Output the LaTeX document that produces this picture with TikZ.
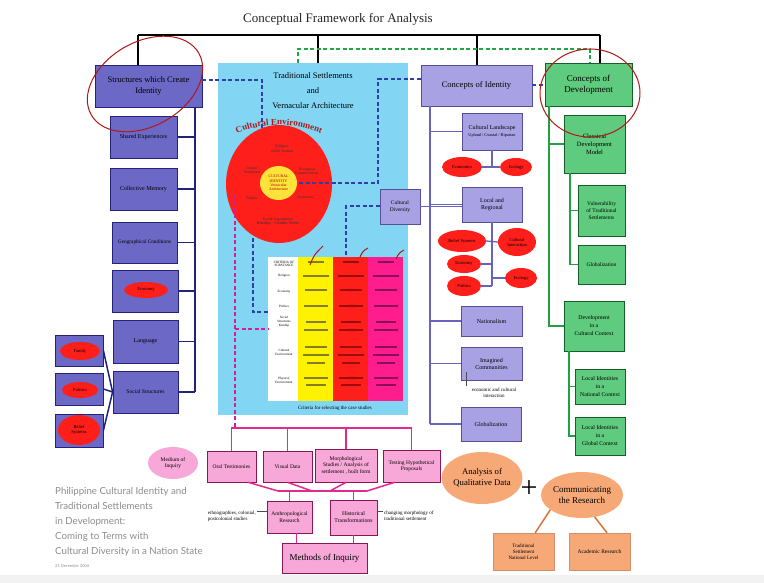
\documentclass[tikz,border=0pt]{standalone}
\usepackage{fontspec}
\setmainfont{Liberation Serif}
\newfontfamily\graysans{Lato}
\usetikzlibrary{shapes,calc,decorations.text}

\definecolor{structblue}{HTML}{6B68C6}
\definecolor{structline}{HTML}{23237A}
\definecolor{idlav}{HTML}{A8A2E4}
\definecolor{idline}{HTML}{6A63BE}
\definecolor{devgreen}{HTML}{5FCB7E}
\definecolor{devline}{HTML}{22A044}
\definecolor{panelcyan}{HTML}{82D6F4}
\definecolor{inqpink}{HTML}{F8A8D8}
\definecolor{inqline}{HTML}{E3288E}
\definecolor{anaorange}{HTML}{F7A877}
\definecolor{analine}{HTML}{D9743A}
\definecolor{hotred}{HTML}{FF1F1A}
\definecolor{identyellow}{HTML}{FFE23A}
\definecolor{dashblue}{HTML}{2F3FA6}
\definecolor{dashgreen}{HTML}{20A848}
\definecolor{dashmag}{HTML}{D0209A}
\definecolor{critpink}{HTML}{FF1C8C}
\definecolor{penred}{HTML}{B01818}

\begin{document}
\begin{tikzpicture}[x=1pt,y=-1pt,
  sbox/.style={draw=structline,fill=structblue,line width=0.8pt,align=center,inner sep=1pt,font=\fontsize{6}{7}\selectfont},
  ibox/.style={draw=idline!80!black,fill=idlav,line width=0.6pt,align=center,inner sep=1pt,font=\fontsize{6}{7}\selectfont},
  dbox/.style={draw=devline!60!black,fill=devgreen,line width=0.6pt,align=center,inner sep=1pt,font=\fontsize{6}{7}\selectfont},
  pbox/.style={draw=inqline!60!black,fill=inqpink,line width=0.6pt,align=center,inner sep=1pt,font=\fontsize{5.5}{6.5}\selectfont},
  obox/.style={draw=anaorange!85!black,fill=anaorange,line width=0.3pt,align=center,inner sep=1pt,font=\fontsize{5}{6}\selectfont},
  redell/.style={ellipse,fill=hotred,inner sep=0pt,align=center,font=\fontsize{4.5}{5}\selectfont},
  circtext/.style={font=\fontsize{3.8}{4.3}\selectfont,align=center,text=black!80,inner sep=0pt},
  tabtext/.style={font=\fontsize{3.3}{3.8}\selectfont,align=center,inner sep=0pt},
  note/.style={font=\fontsize{5}{6}\selectfont,align=left,inner sep=1pt},
  noteline/.style={draw=black!70,line width=0.4pt},
  sline/.style={draw=structline,line width=1.5pt},
  iline/.style={draw=idline,line width=1.3pt},
  dline/.style={draw=devline,line width=1.3pt},
  pline/.style={draw=inqline,line width=1.5pt},
  oline/.style={draw=analine,line width=1.5pt},
  bline/.style={draw=black,line width=2.4pt},
  bluedash/.style={draw=dashblue,line width=2pt,dash pattern=on 4pt off 2.5pt},
  greendash/.style={draw=dashgreen,line width=2pt,dash pattern=on 4pt off 2.5pt},
  magdash/.style={draw=dashmag,line width=2pt,dash pattern=on 4pt off 2.5pt},
  redpen/.style={draw=penred,line width=1pt},
  textstroke/.style={line width=1.1pt,opacity=0.6}]
\fill[white] (0,0) rectangle (764,583);
\fill[black!5] (0,575) rectangle (764,583);
\useasboundingbox (0,0) rectangle (764,583);

\node[font=\fontsize{13}{15}\selectfont,text=black!85] (title) at (338,19) {Conceptual Framework for Analysis};

\node[fill=panelcyan,minimum width=190,minimum height=352] (tsva) at (313,239) {};
\node[align=center,font=\fontsize{8.5}{15}\selectfont] (tsvatitle) at (313,91) {Traditional Settlements\\and\\Vernacular Architecture};

\node[sbox,minimum width=107,minimum height=42,font=\fontsize{8.5}{11}\selectfont] (strid) at (148.5,86) {Structures which Create\\Identity};
\node[sbox,minimum width=67,minimum height=42] (shared) at (143.5,137) {Shared Experiences};
\node[sbox,minimum width=67,minimum height=42] (collective) at (143.5,189) {Collective Memory};
\node[sbox,minimum width=65,minimum height=41,font=\fontsize{5.3}{6}\selectfont] (geo) at (144.5,242.5) {Geographical Conditions};
\node[sbox,minimum width=66,minimum height=42] (econbox) at (145,291) {};
\node[redell,minimum width=44,minimum height=16] (econ0) at (146,290) {Economy};
\node[sbox,minimum width=65,minimum height=43] (language) at (145.5,341.5) {Language};
\node[sbox,minimum width=65,minimum height=42,font=\fontsize{5.6}{6.5}\selectfont] (social) at (145.5,392) {Social Structures};
\node[sbox,minimum width=48,minimum height=31] (family) at (79,350.5) {};
\node[sbox,minimum width=48,minimum height=32] (politics) at (79,389) {};
\node[sbox,minimum width=48,minimum height=33] (belief) at (79,430.5) {};
\node[redell,minimum width=40,minimum height=18] (familyell) at (80,351) {Family};
\node[redell,minimum width=36,minimum height=16] (politicsell) at (80,390) {Politics};
\node[redell,minimum width=42,minimum height=30] (beliefell) at (79,430) {Belief\\Systems};

\coordinate (sspine) at (195,107);
\draw[sline] (strid.south -| sspine) -- (social.east -| sspine);
\foreach \n in {shared,collective,geo,econbox,language,social}
  \draw[sline] (\n.east) -- (\n.east -| sspine);
\foreach \n in {family,politics,belief}
  \draw[sline] (\n.east) -- (social.west);

\node[ellipse,fill=hotred,minimum width=106,minimum height=118,inner sep=0pt] (cenv) at (279,184) {};
\node[ellipse,fill=identyellow,minimum width=37,minimum height=34,inner sep=0pt] (ident) at (278.5,183) {};
\path[decorate,decoration={text along path,text align=center,
  text={|\fontsize{9}{9}\selectfont\bfseries\color{penred}|Cultural Environment}}]
  (236,133.7) arc[start angle=247,end angle=293,radius=110];
\node[circtext] (relig) at (282,149) {Religion\\Belief System};
\node[circtext] (cosmic) at (252,170) {Cosmic\\Worldview};
\node[circtext] (ecocon) at (307,171) {Ecological\\Considerations};
\node[circtext] (cpol) at (252,198) {Politics};
\node[circtext] (cecon) at (306,197) {Economics};
\node[circtext] (kin) at (278,222) {Social Organisation\\{\fontsize{4.5}{5.5}\selectfont Kinship - Gender Roles}};
\node[circtext,text=red!60!black] (identtxt) at (278.5,183) {CULTURAL\\IDENTITY\\Vernacular\\Architecture};

\node[fill=white,minimum width=135,minimum height=144,inner sep=0pt] (crit) at (335.5,329) {};
\fill[yellow] (298,257) rectangle (333,401);
\fill[hotred] (333,257) rectangle (368,401);
\fill[critpink] (368,257) rectangle (403,401);
\node[tabtext] (crith) at (284,264) {CRITERIA OF\\SUBSTANCE};
\node[tabtext] (critr1) at (284,276) {Religion};
\node[tabtext] (critr2) at (284,292) {Economy};
\node[tabtext] (critr3) at (284,306) {Politics};
\node[tabtext] (critr4) at (284,322) {Social\\Structures\\Kinship};
\node[tabtext] (critr5) at (284,352) {Cultural\\Environment};
\node[tabtext] (critr6) at (284,380) {Physical\\Environment};
\foreach \x/\c in {315.5/black!80,350.5/red!35!black,385.5/violet!50!black}
  \foreach \y/\w in {262/8,276/13,290/11,306/12,322/10,330/12,347/11,355/13,363/9,378/12,385/10}
    \draw[textstroke,\c] (\x-\w,\y) -- (\x+\w,\y);
\node[font=\fontsize{5}{6}\selectfont] (critcap) at (335,408) {Criteria for selecting the case studies};
\draw[redpen] (310,265) .. controls (314,255) .. (323,246);
\draw[redpen] (360,257) .. controls (363,251) .. (368,248);
\draw[redpen] (396,259) .. controls (399,253) .. (404,250);

\node[ibox,minimum width=40,minimum height=35,font=\fontsize{5.5}{6.5}\selectfont] (cdiv) at (400,206.5) {Cultural\\Diversity};

\node[ibox,minimum width=111,minimum height=41,font=\fontsize{8.5}{10}\selectfont] (cid) at (476.5,85.5) {Concepts of Identity};
\node[ibox,minimum width=60,minimum height=37] (cland) at (492,131.5) {Cultural Landscape\\{\fontsize{4.3}{6}\selectfont Upland / Coastal / Riparian}};
\node[redell,minimum width=40,minimum height=20] (econ1) at (462,167) {Economics};
\node[redell,minimum width=32,minimum height=18] (ecol1) at (516,167) {Ecology};
\node[ibox,minimum width=60,minimum height=35] (locreg) at (492,204.5) {Local and\\Regional};
\node[redell,minimum width=48,minimum height=22] (belief2) at (462,241) {Belief Systems};
\node[redell,minimum width=38,minimum height=28] (cint) at (517,242) {Cultural\\Interaction};
\node[redell,minimum width=34,minimum height=18] (economy2) at (464,264) {Economy};
\node[redell,minimum width=32,minimum height=20] (ecol2) at (521,278) {Ecology};
\node[redell,minimum width=34,minimum height=20] (pol2) at (464,286) {Politics};
\node[ibox,minimum width=61,minimum height=30] (natl) at (491.5,321) {Nationalism};
\node[ibox,minimum width=61,minimum height=33] (imag) at (491.5,363.5) {Imagined\\Communities};
\node[note,align=center] (econint) at (494,393) {economic and cultural\\interaction};
\node[ibox,minimum width=60,minimum height=34] (glob1) at (491,424) {Globalization};

\coordinate (ispine) at (430,106);
\draw[iline] (cid.south -| ispine) -- (glob1.west -| ispine);
\foreach \n in {cland,locreg,natl,imag,glob1}
  \draw[iline] (\n.west) -- (\n.west -| ispine);
\draw[iline] (cdiv.east) -- (cdiv.east -| locreg.west);
\draw[iline] (cland.south) -- (cland.south |- econ1.east);
\draw[iline] (econ1.east) -- (ecol1.west);
\draw[iline] (locreg.south) -- (locreg.south |- pol2.east);
\draw[iline] (belief2.east) -- (cint.west);
\foreach \n in {economy2,pol2}
  \draw[iline] (\n.east) -- (\n.east -| locreg.south);
\draw[iline] (ecol2.west) -- (ecol2.west -| locreg.south);
\draw[noteline] ([xshift=5pt,yshift=8pt]imag.south west) -- ++(0,14);

\node[dbox,minimum width=87,minimum height=43,font=\fontsize{9}{11}\selectfont] (cdev) at (588.5,84.5) {Concepts of\\Development};
\node[dbox,minimum width=61,minimum height=58,font=\fontsize{6.5}{8}\selectfont] (cdm) at (594.5,144) {Classical\\Development\\Model};
\node[dbox,minimum width=47,minimum height=51,font=\fontsize{5.5}{7}\selectfont] (vuln) at (601.5,210.5) {Vulnerability\\of Traditional\\Settlements};
\node[dbox,minimum width=47,minimum height=39,font=\fontsize{5.5}{7}\selectfont] (glob2) at (601.5,264.5) {Globalization};
\node[dbox,minimum width=60,minimum height=50,font=\fontsize{5.8}{8}\selectfont] (dcc) at (594,326) {Development\\in a\\Cultural Context};
\node[dbox,minimum width=50,minimum height=35,font=\fontsize{5.8}{8}\selectfont] (lnat) at (600,386.5) {Local Identities\\in a\\National Context};
\node[dbox,minimum width=50,minimum height=38,font=\fontsize{5.8}{8}\selectfont] (lglob) at (600,436) {Local Identities\\in a\\Global Context};

\coordinate (dspine) at (549,106);
\draw[dline] (cdev.south -| dspine) |- (dcc.west);
\draw[dline] (cdm.west) -- (cdm.west -| dspine);
\coordinate (dspine2) at (570,173);
\draw[dline] (cdm.south -| dspine2) |- (glob2.west);
\draw[dline] (vuln.west) -- (vuln.west -| dspine2);
\coordinate (dspine3) at (569,351);
\draw[dline] (dcc.south -| dspine3) |- (lglob.west);
\draw[dline] (lnat.west) -- (lnat.west -| dspine3);

\draw[bline] (138,35) -- (600,35);
\foreach \n/\x in {strid/138,tsva/318,cid/477,cdev/600}
  \draw[bline] (\x,35) -- (\n.north -| \x,35);
\coordinate (gd1) at (298,49);
\coordinate (gd2) at (590,49);
\draw[greendash] (tsva.north -| gd1) -- (gd1) -- (gd2) -- (cdev.north -| gd2);

\coordinate (bd1) at (262,130);
\draw[bluedash] ([yshift=6pt]strid.east) -| (bd1);
\coordinate (bd2) at (378,183);
\draw[bluedash] ([yshift=6pt]cid.west) -| (bd2) -- (ident.east);
\draw[bluedash] (cid.east) -- (cid.east -| cdev.west);
\coordinate (bd3) at (346,257);
\draw[bluedash] (cdiv.west) -| (bd3);
\coordinate (bd4) at (253,238);
\draw[bluedash] (bd4) |- ([yshift=17pt]crit.west);

\node[pbox,minimum width=49,minimum height=31] (oral) at (231.5,466.5) {Oral Testimonies};
\node[pbox,minimum width=49,minimum height=31] (visual) at (287.5,466.5) {Visual Data};
\node[pbox,minimum width=62,minimum height=33] (morph) at (346,465.5) {Morphological\\Studies / Analysis of\\settlement , built form};
\node[pbox,minimum width=57,minimum height=32] (testing) at (411.5,466) {Testing Hypothetical\\Proposals};
\node[pbox,minimum width=45,minimum height=32] (anthro) at (289.5,517) {Anthropological\\Research};
\node[pbox,minimum width=47,minimum height=35,font=\fontsize{5.8}{7}\selectfont] (hist) at (353.5,517.5) {Historical\\Transformations};
\node[pbox,minimum width=85,minimum height=30,font=\fontsize{9}{10}\selectfont] (methods) at (324.5,558) {Methods of Inquiry};
\node[pbox,ellipse,draw=none,minimum width=50,minimum height=32,inner sep=0pt] (medium) at (173,463) {Medium of\\Inquiry};

\coordinate (md1) at (235,195);
\coordinate (pbar) at (300,428);
\draw[magdash] (md1) -- (md1 |- pbar);
\draw[magdash] (md1 |- crit.west) -- (crit.west);
\draw[pline] (oral.north) |- (pbar) -| (testing.north);
\foreach \n in {visual,morph}
  \draw[pline] (\n.north) -- (\n.north |- pbar);
\coordinate (q1) at (278,491);
\coordinate (q2) at (312,491);
\coordinate (q3) at (330,491);
\coordinate (q4) at (367,491);
\draw[pline,line width=2.5pt] (q1) -- (q4);
\draw[pline] ([xshift=-8pt]oral.south east) -- (q1);
\draw[pline] (visual.south) -- (q2);
\draw[pline] (morph.south) -- (q3);
\draw[pline] ([xshift=12pt]testing.south west) -- (q4);
\draw[pline] (anthro.north) -- (anthro.north |- q1);
\draw[pline] (hist.north) -- (hist.north |- q4);
\draw[pline] ([xshift=7pt]anthro.south) -- ([xshift=7pt]anthro.south |- methods.north);
\draw[pline] (hist.south) -- (hist.south |- methods.north);

\node[note,anchor=east] (ethno) at (257,516) {ethnographies, colonial,\\postcolonial studies};
\draw[noteline] ([yshift=5pt]ethno.east) -- ([yshift=5pt]ethno.east -| anthro.west);
\node[note,anchor=west] (chmorph) at (383,516) {changing morphology of\\traditional settlement};
\draw[noteline] ([yshift=5pt]chmorph.west) -- ([yshift=5pt]chmorph.west -| hist.east);

\node[obox,ellipse,draw=none,minimum width=72,minimum height=52,inner sep=0pt,font=\fontsize{8.7}{11}\selectfont] (qual) at (482,478) {Analysis of\\Qualitative Data};
\node[font=\fontsize{30}{30}\selectfont] (plus) at (529,489) {+};
\node[obox,ellipse,draw=none,minimum width=74,minimum height=46,inner sep=0pt,font=\fontsize{9}{11}\selectfont] (comm) at (582,495) {Communicating\\the Research};
\node[obox,minimum width=61,minimum height=37] (tsnl) at (523.5,551.5) {Traditional\\Settlement\\National Level};
\node[obox,minimum width=61,minimum height=37,font=\fontsize{5.5}{6.5}\selectfont] (acad) at (599.5,551.5) {Academic Research};
\draw[oline] (comm.205) -- (tsnl.58);
\draw[oline] (comm.300) -- (acad.68);

\draw[redpen,rotate around={30:(145,84)}] (145,84) ellipse[x radius=62,y radius=42];
\draw[redpen] (590,93) ellipse[x radius=50,y radius=44];

\node[anchor=north west,align=left,inner sep=0pt,font=\graysans\fontsize{9.7}{15}\selectfont,text=black!45] (phil) at (55,487) {Philippine Cultural Identity and\\Traditional Settlements\\in Development:\\Coming to Terms with\\Cultural Diversity in a Nation State};
\node[anchor=north west,inner sep=0pt,font=\graysans\fontsize{4}{5}\selectfont,text=black!45] (date) at (55,564) {21 December 2006};
\end{tikzpicture}
\end{document}
